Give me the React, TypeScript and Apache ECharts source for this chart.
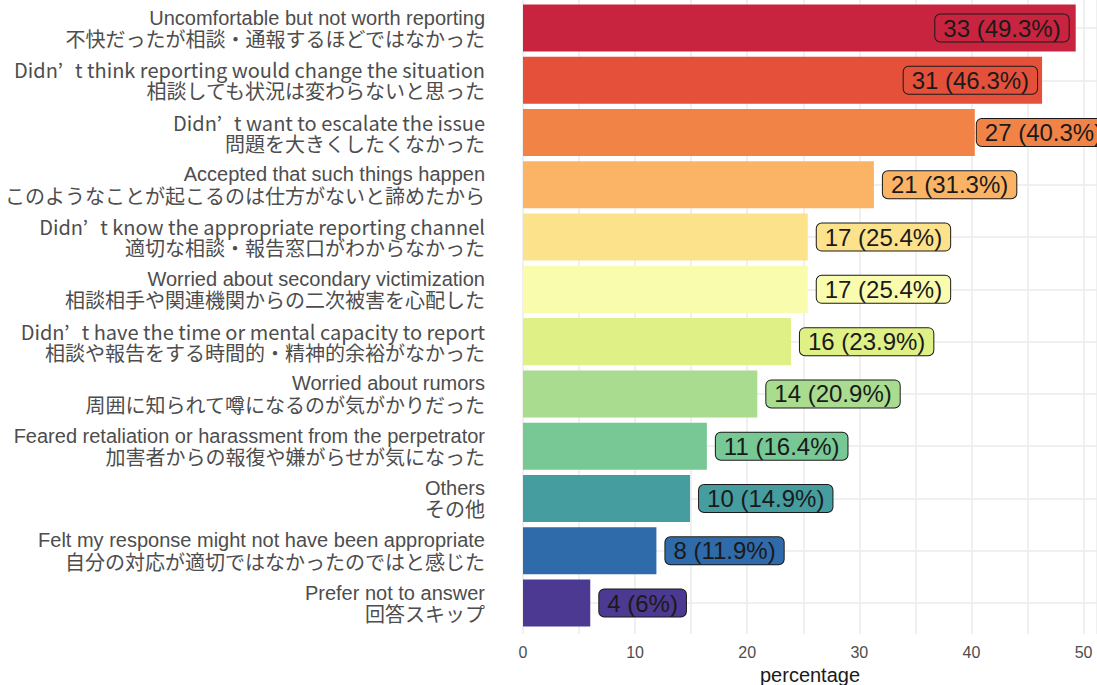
import React, { useEffect, useRef } from "react";
import * as echarts from "echarts";

const labelsEn = [
  "Uncomfortable but not worth reporting",
  "Didn’t think reporting would change the situation",
  "Didn’t want to escalate the issue",
  "Accepted that such things happen",
  "Didn’t know the appropriate reporting channel",
  "Worried about secondary victimization",
  "Didn’t have the time or mental capacity to report",
  "Worried about rumors",
  "Feared retaliation or harassment from the perpetrator",
  "Others",
  "Felt my response might not have been appropriate",
  "Prefer not to answer",
];
const labelsJa = [
  "不快だったが相談・通報するほどではなかった",
  "相談しても状況は変わらないと思った",
  "問題を大きくしたくなかった",
  "このようなことが起こるのは仕方がないと諦めたから",
  "適切な相談・報告窓口がわからなかった",
  "相談相手や関連機関からの二次被害を心配した",
  "相談や報告をする時間的・精神的余裕がなかった",
  "周囲に知られて噂になるのが気がかりだった",
  "加害者からの報復や嫌がらせが気になった",
  "その他",
  "自分の対応が適切ではなかったのではと感じた",
  "回答スキップ",
];
const counts = [33, 31, 27, 21, 17, 17, 16, 14, 11, 10, 8, 4];
const percents = [49.3, 46.3, 40.3, 31.3, 25.4, 25.4, 23.9, 20.9, 16.4, 14.9, 11.9, 6];
const barColors = [
  "#C8243F", "#E4503A", "#F28346", "#FBB466", "#FDE28C", "#FAFCAD",
  "#DFF186", "#A9DC8F", "#78C895", "#459D9F", "#2F6AAA", "#4C3991",
];
const xTicks = [0, 10, 20, 30, 40, 50];

export default function App() {
  const ref = useRef<HTMLDivElement>(null);
  useEffect(() => {
    if (!ref.current) return;
    const chart = echarts.init(ref.current, undefined, { renderer: "svg" });
    const gridColor = "#EBEBEB";
    const data = percents.map((p, i) => {
      let pos: any = "right";
      let dist = 9;
      if (i === 0) { pos = "insideRight"; dist = 7; }
      else if (i === 1) { pos = "insideRight"; dist = 5; }
      else if (i === 2) { pos = "right"; dist = 2; }
      return {
        value: p,
        itemStyle: { color: barColors[i] },
        label: { position: pos, distance: dist, backgroundColor: barColors[i] },
      };
    });
    const base = { fontSize: 20, color: "#4D4D4D", lineHeight: 21 };
    chart.setOption({
      animation: false,
      grid: [
        { left: 523, right: 0, top: 28, bottom: 82, outerBoundsMode: "none", containLabel: false },
        { left: 523, right: 0, top: 0, bottom: 51, outerBoundsMode: "none", containLabel: false },
      ],
      xAxis: [
        { gridIndex: 0, type: "value", min: 0, max: 51.2, show: false },
        {
          gridIndex: 1,
          type: "value",
          min: 0,
          max: 51.2,
          interval: 5,
          axisLine: { show: false },
          axisTick: { show: false },
          splitLine: { show: true, lineStyle: { color: gridColor, width: 1.5 } },
          axisLabel: {
            margin: 10,
            fontSize: 16,
            color: "#4D4D4D",
            fontFamily: "Liberation Sans",
            formatter: (v: number) => (xTicks.includes(v) ? String(v) : ""),
          },
          name: "percentage",
          nameLocation: "middle",
          nameGap: 30,
          nameTextStyle: { fontSize: 20, color: "#1A1A1A", fontFamily: "Liberation Sans" },
        },
      ],
      yAxis: [
        {
          gridIndex: 0,
          type: "category",
          inverse: true,
          boundaryGap: false,
          data: labelsEn,
          axisLine: { show: false },
          axisTick: { show: false },
          splitLine: { show: true, lineStyle: { color: gridColor, width: 1.5 } },
          axisLabel: {
            margin: 38,
            formatter: (v: string, idx: number) => {
              let first: string;
              if (v.includes("’")) {
                const parts = v.split("’");
                first = `{enj|${parts[0]}’}{enj|${parts[1]}}`;
              } else {
                first = `{en|${v}}`;
              }
              return `${first}\n{ja|${labelsJa[idx]}}`;
            },
            rich: {
              en: { ...base, fontFamily: "Liberation Sans" },
              enj: { ...base, fontFamily: "Noto Sans CJK JP", padding: [0, 0, 0, 12] },
              ja: { ...base, fontFamily: "Noto Sans CJK JP" },
            },
          },
        },
        { gridIndex: 1, type: "value", min: 0, max: 1, show: false },
      ],
      series: [
        {
          type: "bar",
          xAxisIndex: 0,
          yAxisIndex: 0,
          barWidth: "90%",
          clip: false,
          data,
          label: {
            show: true,
            formatter: (p: any) => `${counts[p.dataIndex]} (${percents[p.dataIndex]}%)`,
            fontFamily: "Liberation Sans",
            fontSize: 24,
            color: "#1A1A1A",
            borderColor: "#1A1A1A",
            borderWidth: 1,
            borderRadius: 5,
            padding: [2, 8, 1, 8],
          },
        },
      ],
    });
    return () => chart.dispose();
  }, []);
  return (
    <div
      ref={ref}
      style={{ position: "fixed", left: 0, top: 0, width: 1097, height: 685, background: "#fff" }}
    />
  );
}
